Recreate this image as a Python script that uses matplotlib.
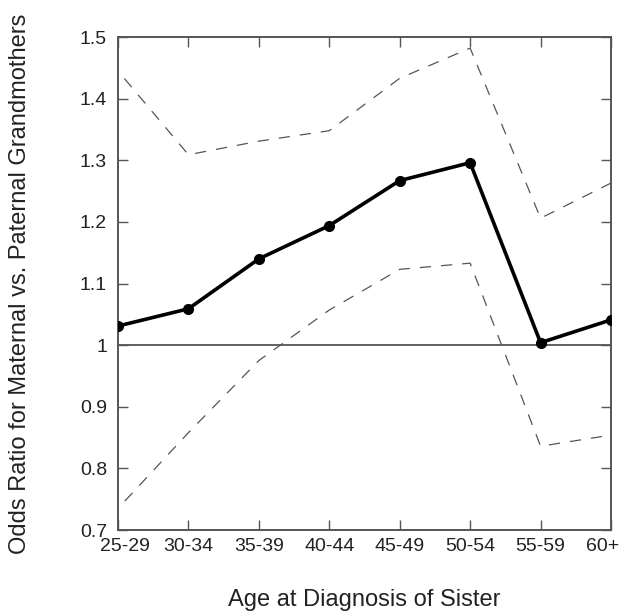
import numpy as np
import matplotlib
matplotlib.use("Agg")
import matplotlib.pyplot as plt
import matplotlib.transforms as mtransforms

plt.rcParams['font.family'] = ['Liberation Sans', 'DejaVu Sans']

# data
ages = ['25-29', '30-34', '35-39', '40-44', '45-49', '50-54', '55-59', '60+']
odds = [1.031, 1.059, 1.140, 1.194, 1.267, 1.296, 1.004, 1.041]
upper = [1.445, 1.309, 1.331, 1.348, 1.433, 1.482, 1.206, 1.263]
lower = [0.735, 0.858, 0.975, 1.057, 1.123, 1.133, 0.836, 0.854]
yticks = [0.7, 0.8, 0.9, 1.0, 1.1, 1.2, 1.3, 1.4, 1.5]
ytick_labels = ['0.7', '0.8', '0.9', '1', '1.1', '1.2', '1.3', '1.4', '1.5']

fig = plt.figure(figsize=(6.22, 6.15), dpi=100)
ax = fig.add_axes([0.1897, 0.1382, 0.7926, 0.8016])

x = np.arange(len(ages))
ax.axhline(1.0, color='#555555', lw=1.3, zorder=1)
ax.plot(x, upper, color='#555555', lw=0.9, linestyle=(9, (9, 8)), zorder=2)
ax.plot(x, lower, color='#555555', lw=0.9, linestyle=(9, (9, 8)), zorder=2)
ax.plot(x, odds, color='black', lw=2.6, marker='o', markersize=7, zorder=3)

ax.set_xlim(0, len(ages) - 1)
ax.set_ylim(0.7, 1.5)
ax.set_xticks(x)
ax.set_xticklabels(ages, fontsize=14)
ax.set_yticks(yticks)
ax.set_yticklabels(ytick_labels, fontsize=14)

ax.tick_params(axis='both', direction='in', length=7, width=1, color='#555555',
               top=True, right=True, labelcolor='#222222')
ax.tick_params(axis='x', pad=6)
ax.tick_params(axis='y', pad=8)
for s in ax.spines.values():
    s.set_color('#555555')
    s.set_linewidth(1.4)

# nudge end labels inward like the original
labels = ax.get_xticklabels()
labels[0].set_transform(labels[0].get_transform() +
                        mtransforms.ScaledTranslation(7 / 100, 0, fig.dpi_scale_trans))
labels[-1].set_transform(labels[-1].get_transform() +
                         mtransforms.ScaledTranslation(-8 / 100, 0, fig.dpi_scale_trans))

fig.text(0.0322, 0.539, 'Odds Ratio for Maternal vs. Paternal Grandmothers',
         rotation=90, ha='center', va='center', fontsize=17, color='#222222')
fig.text(0.586, 0.024, 'Age at Diagnosis of Sister', ha='center', va='center',
         fontsize=17, color='#222222')

fig.savefig('out.png', dpi=100)
